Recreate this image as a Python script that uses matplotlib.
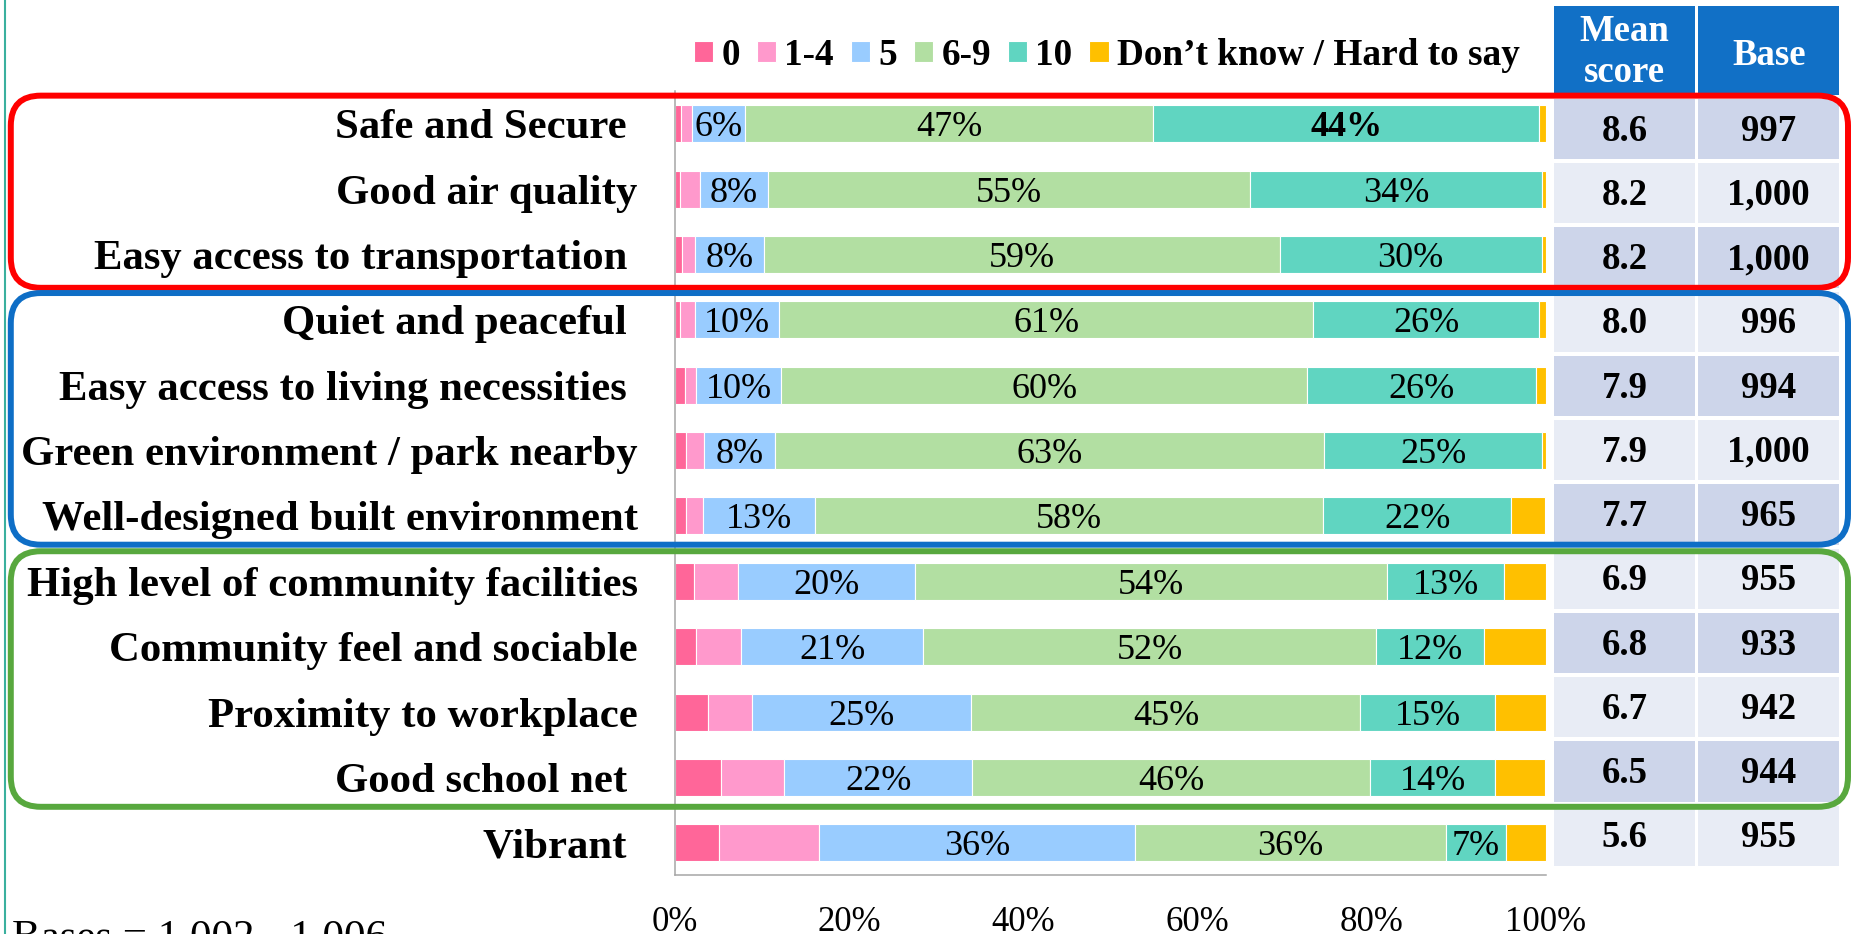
import matplotlib
matplotlib.use('Agg')
import matplotlib.pyplot as plt
from matplotlib.patches import FancyBboxPatch, Rectangle
from matplotlib.transforms import IdentityTransform
import numpy as np

plt.rcParams['font.family'] = ['Liberation Serif', 'DejaVu Serif']

categories = ['Safe and Secure ', 'Good air quality', 'Easy access to transportation ',
              'Quiet and peaceful ', 'Easy access to living necessities ',
              'Green environment / park nearby', 'Well-designed built environment',
              'High level of community facilities', 'Community feel and sociable',
              'Proximity to workplace', 'Good school net ', 'Vibrant ']

# share of answers (%) per score band
score_0 = [0.7, 0.6, 0.8, 0.5, 1.1, 1.2, 1.2, 2.1, 2.4, 3.8, 5.3, 5.0]
score_1_4 = [1.2, 2.3, 1.5, 1.8, 1.3, 2.1, 2.0, 5.1, 5.2, 5.0, 7.2, 11.5]
score_5 = [6.1, 7.7, 7.9, 9.6, 9.8, 8.1, 12.8, 20.3, 20.9, 25.2, 21.6, 36.3]
score_6_9 = [46.9, 55.4, 59.2, 61.4, 60.4, 63.1, 58.4, 54.3, 52.0, 44.7, 45.7, 35.7]
score_10 = [44.3, 33.6, 30.1, 25.9, 26.3, 25.1, 21.6, 13.4, 12.4, 15.4, 14.4, 6.9]
dont_know = [0.8, 0.4, 0.5, 0.8, 1.1, 0.4, 3.9, 4.8, 7.1, 5.9, 5.7, 4.6]

series_names = ['0', '1-4', '5', '6-9', '10', 'Don\u2019t know / Hard to say']
series_colors = ['#FF6699', '#FF99CC', '#99CCFF', '#B2DFA2', '#60D5C1', '#FFC000']
labelled = ['5', '6-9', '10']
bold_label = (0, '10')

mean_score = [8.6, 8.2, 8.2, 8.0, 7.9, 7.9, 7.7, 6.9, 6.8, 6.7, 6.5, 5.6]
base = [997, 1000, 1000, 996, 994, 1000, 965, 955, 933, 942, 944, 955]

# rows framed together: (first row, last row, colour, pad above, pad below)
groups = [(0, 2, '#FF0000', 0.43, 0.51),
          (3, 6, '#0E6EC6', 0.41, 0.44),
          (7, 10, '#58A83E', 0.46, 0.45)]

fig = plt.figure(figsize=(18.51, 9.34), dpi=100)
ax = fig.add_axes([0.3648, 0.0627, 0.4704, 0.8398])

series = [score_0, score_1_4, score_5, score_6_9, score_10, dont_know]
y = np.arange(len(categories))
left = np.zeros(len(categories))
handles = []
for name, vals, col in zip(series_names, series, series_colors):
    vals = np.array(vals)
    b = ax.barh(y, vals, left=left, height=0.566, color=col, edgecolor='white', linewidth=0.8, label=name)
    handles.append(b)
    if name in labelled:
        for i, v in enumerate(vals):
            weight = 'bold' if (i, name) == bold_label else 'normal'
            ax.text(left[i] + v / 2, i, f'{v:.0f}%', ha='center', va='center_baseline',
                    fontsize=26, fontweight=weight)
    left = left + vals

ax.set_xlim(0, 100)
ax.set_ylim(len(categories) - 0.5, -0.5)
ax.set_yticks(y)
ax.set_yticklabels(categories, fontsize=30.8, fontweight='bold')
ax.set_xticks(np.arange(0, 101, 20))
ax.set_xticklabels([f'{t}%' for t in range(0, 101, 20)], fontsize=25)
ax.tick_params(axis='y', length=0, pad=27)
ax.tick_params(axis='x', length=0, pad=22)
for s in ['top', 'right']:
    ax.spines[s].set_visible(False)
for s in ['left', 'bottom']:
    ax.spines[s].set_color('#A6A6A6')
    ax.spines[s].set_linewidth(1.1)

fig.legend(handles=handles, loc='center', bbox_to_anchor=(0.598, 0.941), ncol=6,
           frameon=False, prop={'size': 26.8, 'weight': 'bold'},
           handlelength=0.52, handleheight=0.52, handletextpad=0.22,
           columnspacing=0.45, borderpad=0, borderaxespad=0)

# table of mean scores and bases
tax = fig.add_axes([0.8395, 0.0707, 0.154, 0.8255])
tax.set_xlim(0, 1)
tax.set_ylim(len(categories), 0)
tax.axis('off')
cols = [(0.0, 0.495), (0.507, 0.493)]
gap = 0.0625
for i in range(len(categories)):
    shade = '#CDD5EA' if i % 2 == 0 else '#E8ECF5'
    for (x0, w) in cols:
        tax.add_patch(Rectangle((x0, i + gap / 2), w, 1 - gap, color=shade, lw=0))
    tax.text(cols[0][0] + cols[0][1] / 2, i + 0.47, f'{mean_score[i]:.1f}', ha='center',
             va='center_baseline', fontsize=26.5, fontweight='bold')
    tax.text(cols[1][0] + cols[1][1] / 2, i + 0.47, f'{base[i]:,}', ha='center',
             va='center_baseline', fontsize=26.5, fontweight='bold')
hx = cols[0][0] + cols[0][1] / 2
tax.add_patch(Rectangle((cols[0][0], -1.41), cols[0][1], 1.38, color='#1170C6', lw=0, clip_on=False))
tax.add_patch(Rectangle((cols[1][0], -1.41), cols[1][1], 1.38, color='#1170C6', lw=0, clip_on=False))
tax.text(hx, -0.70, 'Mean\nscore', ha='center', va='center', color='white',
         fontsize=26.5, fontweight='bold', linespacing=1.2, clip_on=False)
tax.text(cols[1][0] + cols[1][1] / 2, -0.70, 'Base', ha='center', va='center_baseline',
         color='white', fontsize=26.5, fontweight='bold', clip_on=False)

# rounded frames around the groups
fig.canvas.draw()
for first, last, col, pad_top, pad_bot in groups:
    top = ax.transData.transform((0, first - pad_top))[1]
    bot = ax.transData.transform((0, last + pad_bot))[1]
    x0, x1 = 10.8, 1848
    box = FancyBboxPatch((x0, bot), x1 - x0, top - bot, boxstyle='round,pad=0,rounding_size=30',
                         transform=IdentityTransform(), fill=False, ec=col, lw=4.3)
    fig.add_artist(box)

fig.add_artist(plt.Line2D([0.0025, 0.0025], [0, 1], color='#3AB09E', lw=1.5))

fig.text(12 / 1851, 1 - 919 / 934, 'Bases = 1,002 - 1,006', ha='left', va='top', fontsize=31)

fig.savefig('out.png', dpi=100)
